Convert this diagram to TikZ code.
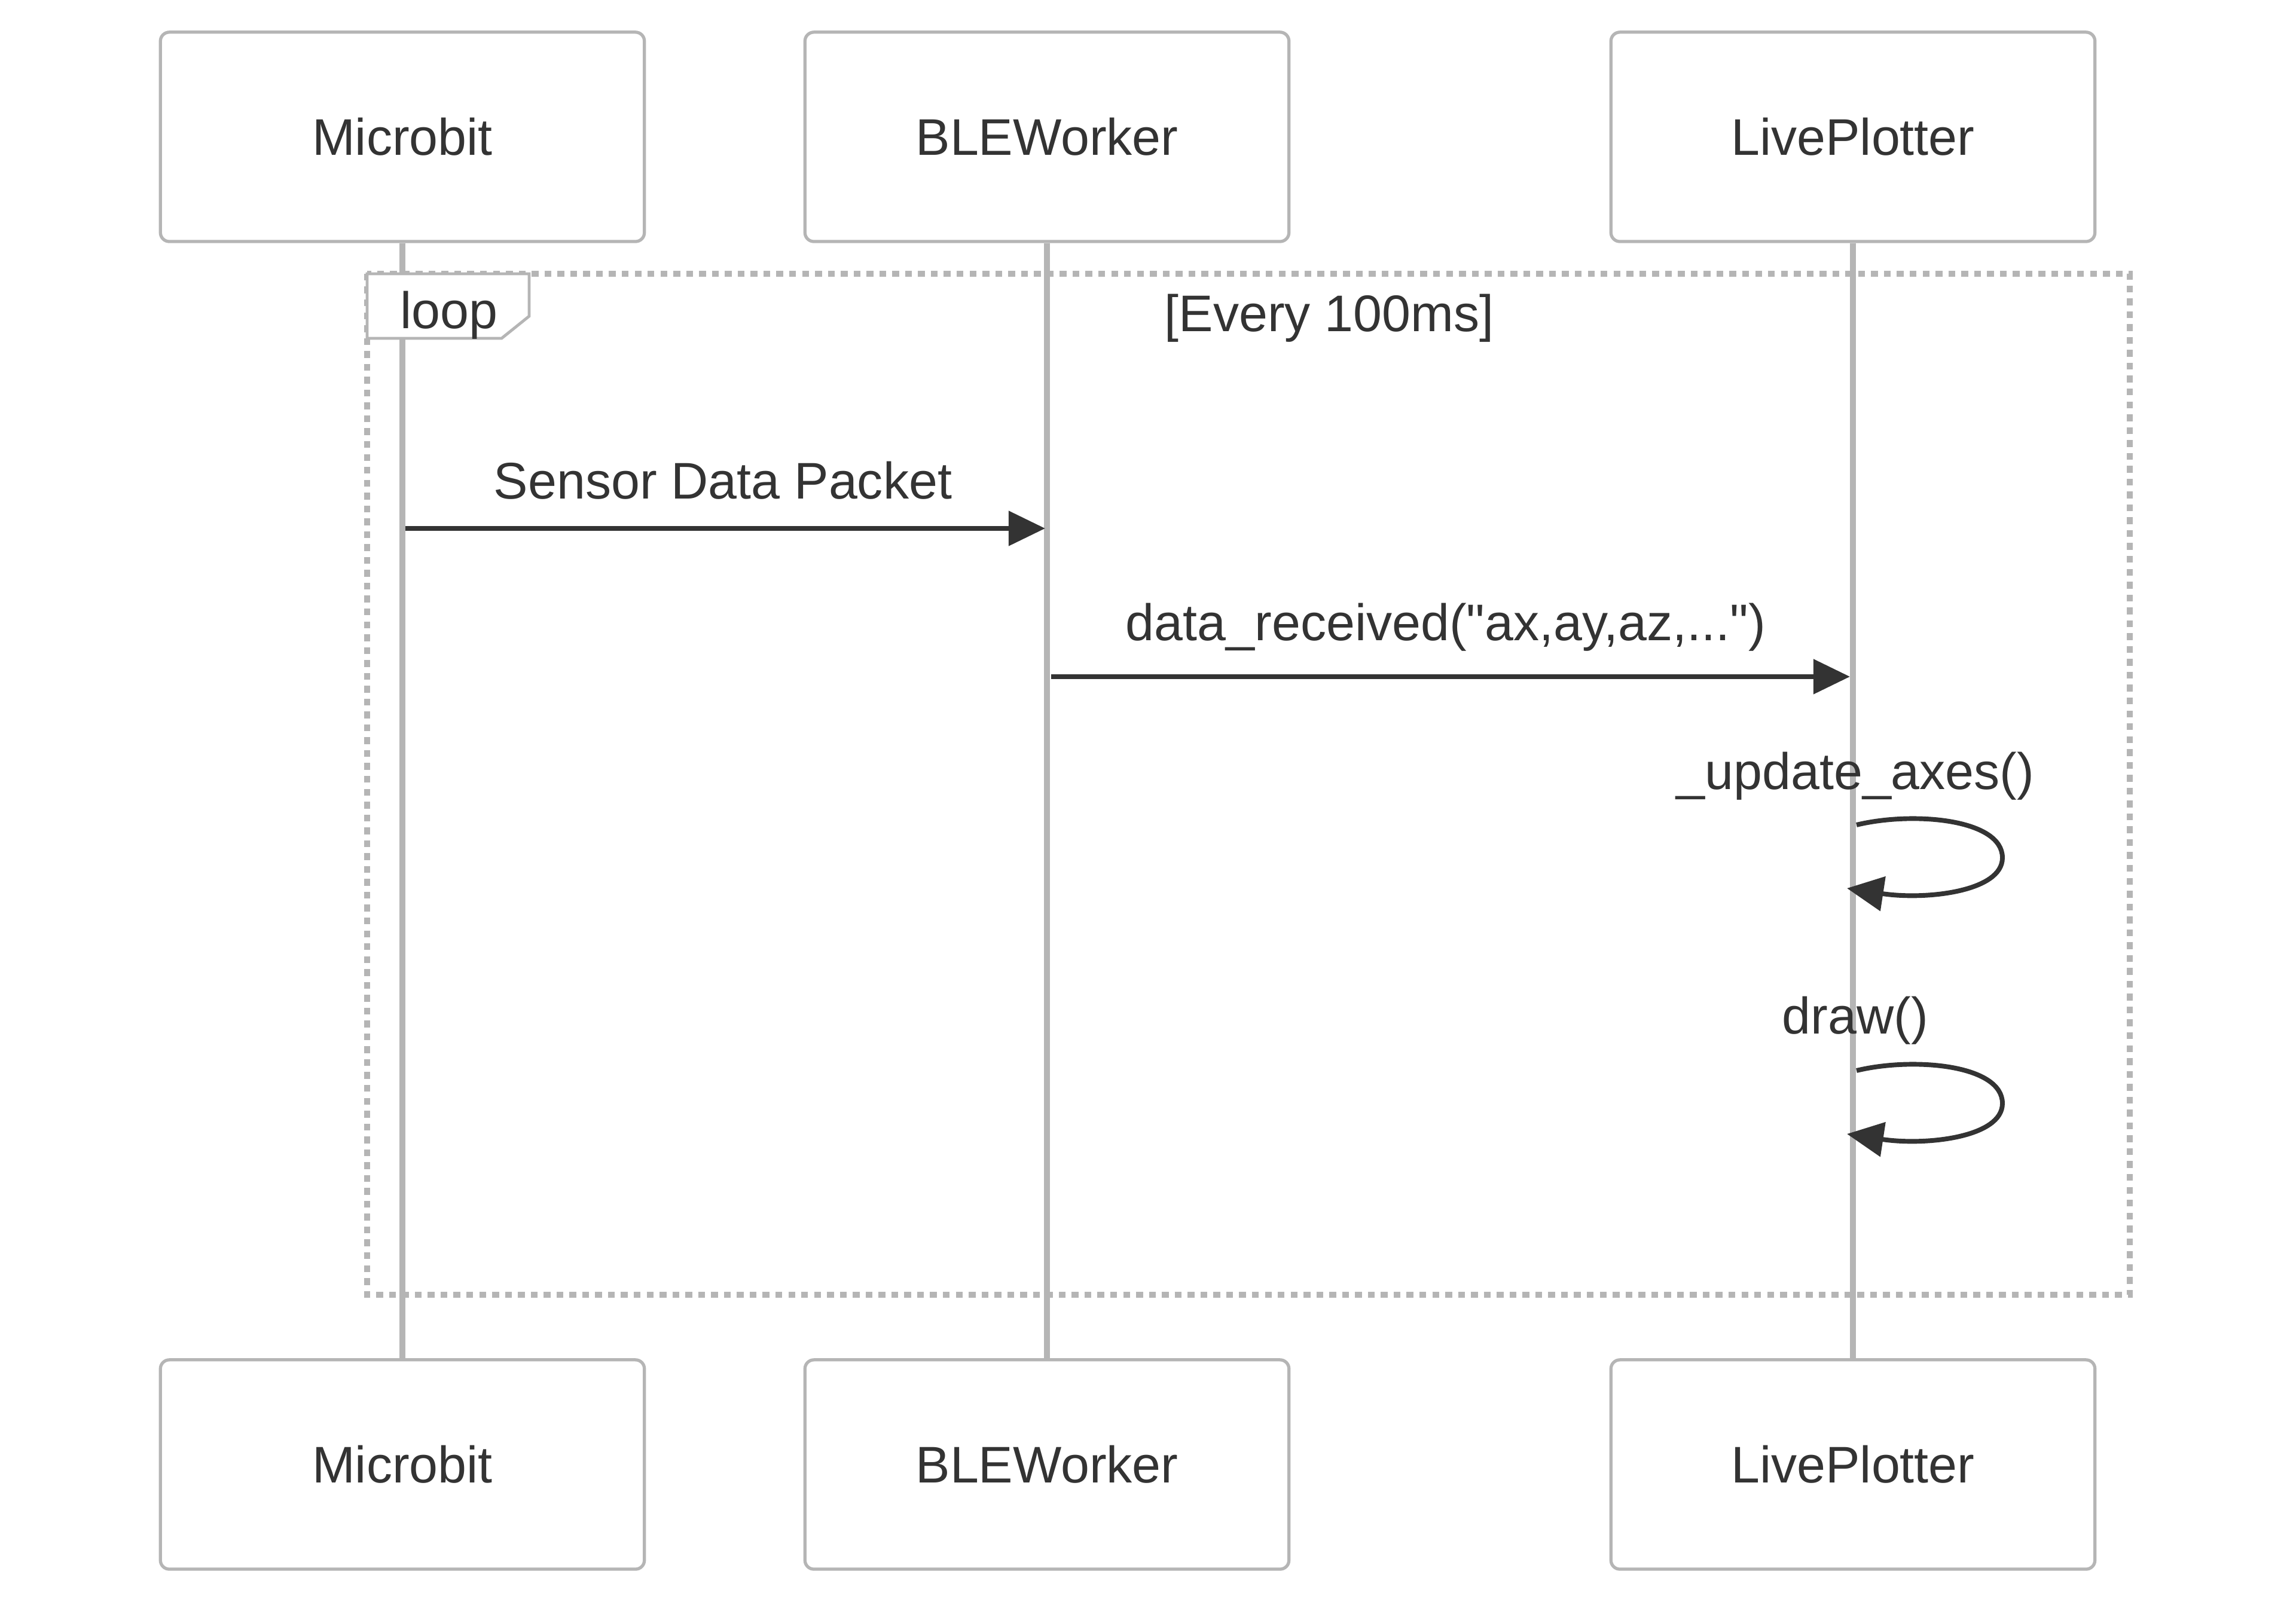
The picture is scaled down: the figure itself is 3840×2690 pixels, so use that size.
\documentclass[tikz,border=0pt]{standalone}
\usepackage{fontspec}
\setmainfont{Liberation Sans}
\usetikzlibrary{arrows.meta}
\definecolor{edgegray}{HTML}{B5B5B5}
\definecolor{ink}{HTML}{333333}
\tikzset{
  actor/.style={draw=edgegray, line width=0.6pt, fill=white, rounded corners=0.06cm,
    minimum width=3.236cm, minimum height=1.4cm, text=ink,
    font=\fontsize{9.8}{12}\selectfont},
  lifeline/.style={draw=edgegray, line width=1.1pt},
  frame/.style={draw=edgegray, line width=1.1pt, dash pattern=on 1.3pt off 1.15pt},
  tabbox/.style={draw=edgegray, line width=0.55pt, fill=white},
  msg/.style={draw=ink, line width=0.9pt, -{Triangle[length=0.244cm,width=0.228cm]}},
  lbl/.style={text=ink, anchor=base, inner sep=0pt, font=\fontsize{9.8}{12}\selectfont},
}

\begin{document}
\begin{tikzpicture}[x=0.004cm, y=-0.004cm]
  \useasboundingbox (0,0) rectangle (3840,2690);

  % participants, top and bottom
  \node[actor] (mt) at (673,229) {Microbit};
  \node[actor] (bt) at (1751,229) {BLEWorker};
  \node[actor] (lt) at (3099,229) {LivePlotter};
  \node[actor] (mb) at (673,2450) {Microbit};
  \node[actor] (bb) at (1751,2450) {BLEWorker};
  \node[actor] (lb) at (3099,2450) {LivePlotter};

  \draw[lifeline] (mt) -- (mb);
  \draw[lifeline] (bt) -- (bb);
  \draw[lifeline] (lt) -- (lb);

  % loop frame
  \draw[frame] (614,458) rectangle (3562,2166);
  \draw[tabbox] (614,458) -- (885,458) -- (885,529) -- (839,566) -- (614,566) -- cycle;
  \node[lbl] (loop) at (751,550) {loop};
  \node[lbl] (cond) at (2223,555) {[Every 100ms]};

  % messages
  \coordinate (m1a) at (678,884);
  \coordinate (m1b) at (1748,884);
  \coordinate (m2a) at (1758,1132);
  \coordinate (m2b) at (3094,1132);
  \node[lbl] (m1) at (1209,835) {Sensor Data Packet};
  \node[lbl] (m2) at (2418,1072) {data\_received(\textquotedbl ax,ay,az,...\textquotedbl)};
  \draw[msg] (m1a) -- (m1b);
  \draw[msg] (m2a) -- (m2b);

  % self calls on LivePlotter
  \coordinate (s1a) at (3105,1380);
  \coordinate (s1b) at (3089,1486);
  \coordinate (s2a) at (3105,1791);
  \coordinate (s2b) at (3089,1897);
  \node[lbl] (s1) at (3103,1321) {\_update\_axes()};
  \node[lbl] (s2) at (3103,1730) {draw()};
  \draw[msg] (s1a) .. controls (3200,1357) and (3349,1370) .. (3349,1435)
                   .. controls (3349,1492) and (3220,1506) .. (s1b);
  \draw[msg] (s2a) .. controls (3200,1768) and (3349,1781) .. (3349,1846)
                   .. controls (3349,1903) and (3220,1917) .. (s2b);
\end{tikzpicture}
\end{document}
